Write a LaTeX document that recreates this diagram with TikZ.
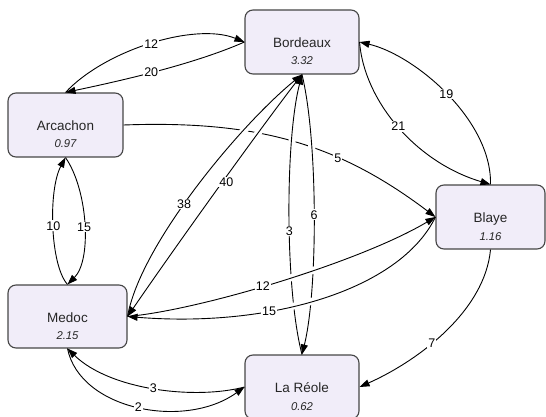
\documentclass[tikz,border=0pt]{standalone}
\usepackage{fontspec}
\setmainfont{Liberation Sans}
\usetikzlibrary{arrows.meta}
\definecolor{boxfill}{RGB}{241,237,249}
\definecolor{boxline}{RGB}{70,70,70}
\begin{document}
\begin{tikzpicture}[x=1pt,y=-1pt,
  box/.style={draw=boxline, fill=boxfill, rounded corners=8pt, line width=1.1pt, minimum height=64pt, inner sep=0pt},
  ttl/.style={font=\fontsize{13.5}{14}\selectfont, anchor=base, text=black!85},
  val/.style={font=\fontsize{11.3}{12}\selectfont\itshape, anchor=base, text=black!85},
  flow/.style={draw=black, line width=0.9pt, -{Triangle[length=10pt,width=7pt]}},
  lbl/.style={fill=white, inner sep=1pt, font=\fontsize{12.5}{13}\selectfont},
  halo/.style={draw=white, line width=7pt}]
\useasboundingbox (0,0) rectangle (546,417);

% nodes
\node[box, minimum width=114pt] (bdx) at (302,42) {};
\node[ttl] (bdx-t) at (302,47.5) {Bordeaux};
\node[val] (bdx-v) at (302,65) {3.32};

\node[box, minimum width=115pt] (arc) at (65.5,125) {};
\node[ttl] (arc-t) at (65.5,130.5) {Arcachon};
\node[val] (arc-v) at (65.5,148) {0.97};

\node[box, minimum width=109pt] (bly) at (490.5,217) {};
\node[ttl] (bly-t) at (490.5,222.5) {Blaye};
\node[val] (bly-v) at (490.5,240) {1.16};

\node[box, minimum width=119pt, minimum height=63pt] (med) at (67.5,316.5) {};
\node[ttl] (med-t) at (67.5,322) {Medoc};
\node[val] (med-v) at (67.5,339.5) {2.15};

\node[box, minimum width=114pt] (reo) at (302,387) {};
\node[ttl] (reo-t) at (302,392.5) {La Réole};
\node[val] (reo-v) at (302,410) {0.62};

% Arcachon -> Blaye (drawn first, broken by crossings)
\draw[flow] (arc.east) .. controls (260,120) and (340,145) .. node[lbl,pos=.65] (l-5) {5} (bly.west);

\begin{scope}
  \clip (200,105) rectangle (340,170);
  \draw[halo] (med.east) .. controls (140,245) and (240,125) .. (bdx.south);
  \draw[halo] (bdx.south) .. controls (270,115) and (180,240) .. (med.east);
  \draw[halo] (reo.north) .. controls (285,290) and (285,140) .. (bdx.south);
  \draw[halo] (bdx.south) .. controls (318,140) and (318,290) .. (reo.north);
\end{scope}

% Bordeaux <-> La Reole
\draw[flow] (reo.north) .. controls (285,290) and (285,140) .. node[lbl,pos=.45] (l-3a) {3} (bdx.south);
\draw[flow] (bdx.south) .. controls (318,140) and (318,290) .. node[lbl,pos=.5] (l-6) {6} (reo.north);

\begin{scope}
  \clip (270,240) rectangle (330,320);
  \draw[halo] (med.east) .. controls (200,310) and (360,262) .. (bly.west);
  \draw[halo] (bly.west) .. controls (400,290) and (270,328) .. (med.east);
\end{scope}

% Medoc <-> Blaye
\draw[flow] (med.east) .. controls (200,310) and (360,262) .. node[lbl,pos=.45] (l-12b) {12} (bly.west);
\draw[flow] (bly.west) .. controls (400,290) and (270,328) .. node[lbl,pos=.65] (l-15b) {15} (med.east);

% Medoc <-> Bordeaux
\draw[flow] (med.east) .. controls (140,245) and (240,125) .. node[lbl,pos=.44] (l-38) {38} (bdx.south);
\draw[flow] (bdx.south) .. controls (270,115) and (180,240) .. node[lbl,pos=.5,xshift=4pt] (l-40) {40} (med.east);

% Arcachon <-> Bordeaux
\draw[flow] (arc.north) .. controls (105,50) and (195,22) .. node[lbl,pos=.5] (l-12a) {12} (bdx.west);
\draw[flow] (bdx.west) .. controls (190,66) and (110,83) .. node[lbl,pos=.5] (l-20) {20} (arc.north);

% Bordeaux <-> Blaye
\draw[flow] (bdx.east) .. controls (364,100) and (415,162) .. node[lbl,pos=.5] (l-21) {21} (bly.north);
\draw[flow] (bly.north) .. controls (492,120) and (415,55) .. node[lbl,pos=.5] (l-19) {19} (bdx.east);

% Medoc <-> Arcachon
\draw[flow] (med.north) .. controls (50,265) and (48,190) .. node[lbl,pos=.5] (l-10) {10} (arc.south);
\draw[flow] (arc.south) .. controls (88,190) and (92,260) .. node[lbl,pos=.52] (l-15a) {15} (med.north);

% Blaye -> La Reole
\draw[flow] (bly.south) .. controls (485,310) and (420,360) .. node[lbl,pos=.59] (l-7) {7} (reo.east);

% La Reole <-> Medoc
\draw[flow] (reo.west) .. controls (195,400) and (110,390) .. node[lbl,pos=.5] (l-3b) {3} (med.south);
\draw[flow] (med.south) .. controls (80,410) and (185,430) .. node[lbl,pos=.5] (l-2) {2} (reo.west);
\end{tikzpicture}
\end{document}
